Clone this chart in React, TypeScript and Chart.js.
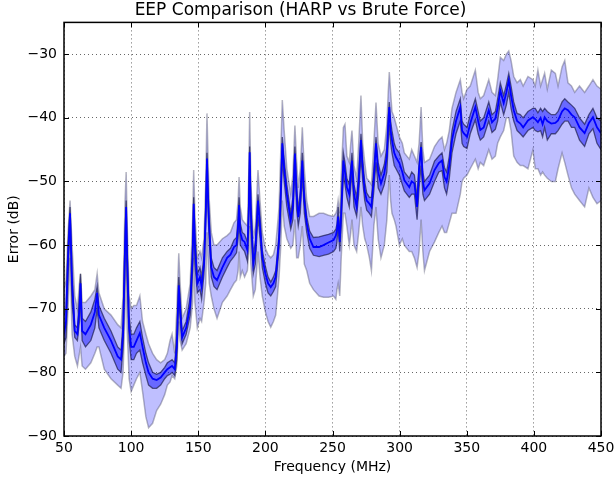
import React, { useEffect, useRef } from "react";
import { Chart, registerables } from "chart.js";

Chart.register(...registerables);

const TITLE = "EEP Comparison (HARP vs Brute Force)";
const X_LABEL = "Frequency (MHz)";
const Y_LABEL = "Error (dB)";
const X_TICKS = [50, 100, 150, 200, 250, 300, 350, 400, 450];
const Y_TICKS = [-90, -80, -70, -60, -50, -40, -30];

const FREQ = [
  50, 51.5, 53, 54.5, 56, 58, 60, 61.5, 62.3, 63.5, 66, 70, 73, 74.7, 76, 80, 85, 90, 92.5, 94,
  95.5, 96.3, 97, 98.5, 100, 102, 104, 106.5, 108.5, 111, 113, 116, 119, 122, 125, 127, 129, 130.5, 132.5, 134,
  135.5, 136.5, 138, 141, 144, 145.8, 146.6, 147.5, 149.3, 151.3, 152.5, 154.3, 155.6, 156.5, 157.5, 158.2, 159.7, 161.7, 164, 168,
  171.5, 174, 176.6, 178.5, 179.7, 180.4, 181.3, 182.8, 184.5, 186.6, 187.6, 188.3, 189.2, 191, 192.5, 194.5, 196, 197.7, 200, 202,
  204, 206, 207.7, 209, 210.2, 211.5, 212.6, 214, 216, 218.9, 220.5, 222, 223.3, 224.5, 226, 227.5, 229, 230.8, 233, 235.8,
  240, 243.3, 247, 250.8, 252.5, 253.3, 254.2, 255.4, 256.5, 258.1, 259.3, 260.7, 262.5, 263.6, 264.5, 266, 268, 269.5, 271.2, 272.5,
  274, 275.5, 277.5, 279, 280.8, 282.4, 284, 286.1, 288.6, 290.5, 291.5, 292.3, 293.3, 294.3, 296, 297.3, 299.8, 302, 303.5, 307.2,
  309, 311, 313, 314.5, 316, 317.3, 318.5, 322.3, 326, 329.2, 331.6, 333.4, 335, 337, 339, 342, 345.2, 346.5, 347.7, 350.2,
  352.6, 356.4, 358.5, 360.1, 362.6, 366.4, 368.8, 371.3, 373, 375, 377.5, 379.5, 381.3, 383, 385, 387.5, 389.9, 392, 395.6, 399.3,
  401, 403, 405, 406.5, 408, 410, 413, 416, 418, 421, 423, 425.4, 428, 430.4, 434, 437.8, 441, 444, 447, 450,
];

const MEAN = [
  -74, -72, -62, -55, -66, -73.5, -74, -70, -66, -73.5, -74, -72.5, -70.5, -67.5, -71, -73, -75, -77.5, -78, -74,
  -60, -54, -62, -73, -76, -76, -75, -73.8, -76, -78.5, -80, -81, -81.2, -80.8, -80, -79.5, -79.2, -79, -79.5, -76,
  -66.3, -70, -74.5, -73, -69.5, -62, -53.5, -60, -66, -65, -66.5, -63, -55, -46.4, -54, -57.2, -63.5, -65, -65.5, -63.5,
  -62, -61.5, -60.3, -60, -57, -53.7, -58, -59.2, -59.5, -60.8, -55, -45.4, -55, -62.9, -61, -53, -57, -61.9, -64.5, -66,
  -66.6, -66, -65, -62, -59.2, -52, -44, -48, -52, -56.1, -54, -45.6, -52, -55.6, -53, -46.7, -53, -56.6, -59, -60.3,
  -60.3, -60, -59.6, -59.2, -58.5, -57.7, -55.5, -59.5, -55, -46.7, -48.5, -50.9, -52, -49, -46.7, -52, -54, -50, -43.5, -48,
  -51.5, -53, -53.5, -54, -49.5, -44, -48.5, -50.3, -48.7, -46, -41, -38.3, -42, -43.5, -45.5, -46.2, -47.1, -48.5, -49.8, -50.9,
  -50, -50.3, -54, -48, -44.6, -50, -51.4, -50.3, -48.2, -47.1, -46.7, -49.3, -50, -47.5, -43.5, -40.5, -38.3, -42, -42.4, -43,
  -40.9, -38.3, -40.5, -41.9, -41.5, -38.8, -40.7, -40.1, -38.5, -35.7, -37.7, -36, -34.1, -36.5, -38.8, -40.5, -40.9, -41.5, -40.4, -39.9,
  -40.2, -40.7, -40, -41, -39.9, -40.5, -40.9, -40.8, -40.4, -39, -38.5, -38.8, -39.5, -39.9, -41.5, -42.4, -40.8, -39.9, -41.5, -42.4,
];

const INNER_HI = [
  -71, -70, -60, -54, -64, -72.5, -73, -68, -64.5, -71.5, -72, -70.5, -68.5, -66.5, -69.5, -71.5, -73.5, -76, -76.5, -72,
  -58, -53, -60, -71, -74, -74, -73, -72, -74.5, -77, -78.5, -80, -80.3, -80, -79.2, -78.5, -78.2, -78, -78.5, -74,
  -65, -68.5, -73.5, -72, -68, -60, -52.5, -58, -64.5, -63.5, -65, -61.5, -54, -45.5, -52.5, -56, -62, -63.5, -64, -62,
  -61, -60.5, -59.2, -58.8, -55.5, -52.5, -56.5, -58, -58.3, -59.5, -53.5, -44.5, -53.5, -61.5, -59.5, -52, -55.5, -60.8, -63.3, -65,
  -65.8, -65, -64, -61, -58, -50.5, -43, -46.5, -50.5, -55, -52.5, -44.5, -50.5, -54.5, -51.5, -45.5, -51.5, -55.5, -57.8, -58.8,
  -58.7, -58.5, -58.3, -58, -57.5, -56.7, -54, -58, -53.5, -45.5, -47, -49.5, -50.5, -47.5, -45.5, -50.5, -52.5, -48.5, -42.5, -46.5,
  -50, -51.8, -52.5, -52.5, -48, -43, -47, -49, -47.3, -44.5, -40, -37.5, -40.5, -42, -44, -44.8, -45.5, -47, -48.5, -49.5,
  -48.5, -49, -52.5, -47, -43.8, -48.5, -50, -49, -46.8, -46, -45.5, -47.8, -48.5, -46, -42, -39, -37, -40.5, -41, -41.5,
  -39.5, -37, -39, -40.5, -40, -37.5, -39.5, -39, -37, -34.5, -36.5, -34.8, -33, -35, -37.5, -39.3, -39.5, -40, -39, -38.5,
  -38.5, -39.2, -38.5, -39, -38.5, -39, -39.5, -39.5, -39, -37.5, -37, -37.5, -38, -38.5, -40, -41, -39.5, -38.5, -40, -40.5,
];

const INNER_LO = [
  -75.5, -74.5, -65, -57, -69, -74.5, -75, -72, -68, -75, -76, -75, -73, -70, -73, -75, -77, -79.5, -80, -76,
  -63, -56, -65, -75, -78, -78, -77, -76.5, -78.5, -80.5, -82, -82.5, -82.5, -82, -81, -80.5, -80.3, -80, -80.5, -78,
  -68, -72, -75.5, -74, -71, -64, -55.5, -63, -67.5, -67, -68.5, -64.5, -57, -48.5, -56, -59.5, -65, -66.5, -67, -65,
  -63.5, -62.5, -61.8, -61.2, -59, -55.5, -60, -60.5, -61, -62.5, -57, -47.5, -57.5, -64.5, -63, -55.5, -59, -63.5, -66, -67.5,
  -68, -67.3, -66.5, -63.5, -60.5, -54, -46.5, -50, -54, -57.5, -56, -48, -54.5, -57, -55, -49, -55, -58, -60.5, -61.6,
  -61.8, -61.6, -61.4, -61, -60.5, -59.5, -57, -61, -57, -49, -50.5, -52.5, -54, -51, -48.5, -54, -55.5, -52, -46, -50,
  -53, -54.5, -55, -55.5, -51.5, -47, -51, -52, -50.5, -48.5, -44, -41, -44, -45.5, -47.5, -48, -49, -50.5, -51.5, -52.5,
  -52, -52, -56, -51, -47.5, -52, -53, -52, -50, -48.5, -48.3, -51, -52, -49.5, -45.5, -42.5, -40.5, -44, -44.5, -44.8,
  -42.5, -40.3, -42.5, -43.5, -43, -40.5, -42.3, -41.8, -40.5, -37.5, -39.5, -38, -36, -38.5, -40.5, -42, -42.5, -43, -42, -41.5,
  -42, -42.2, -42, -43, -41.5, -43.5, -42.5, -42.5, -42, -41, -40.5, -40.5, -41.5, -41.5, -43.5, -44.5, -42.5, -41.7, -44, -45,
];

const OUTER_HI = [
  -67, -65.5, -58, -53, -60, -68, -70, -66, -64.5, -69, -69, -68, -67, -64.5, -67.5, -70, -71, -72.5, -73, -68,
  -53, -48.5, -56, -68, -70, -69.5, -69.5, -68, -72, -74, -75.5, -77, -78, -78.5, -78, -77, -75, -74, -77, -70,
  -61.3, -66, -71.5, -70, -66, -56, -48.2, -55, -62, -61, -62, -59, -50, -39.3, -48, -53, -58, -60, -60, -59,
  -58.5, -58, -56.5, -56, -53, -49.3, -54, -56, -56.5, -57, -49, -39.1, -50, -59, -57, -48.2, -53, -58, -60.5, -61.5,
  -62, -61.5, -60, -57, -54, -45, -37.2, -42, -48, -52, -49, -41.2, -47, -51, -48, -41.5, -48, -53, -55.5, -55.5,
  -55, -55, -55.3, -55.5, -55, -54.5, -53, -55, -49, -41.5, -41, -46, -47, -44, -42, -47.5, -49.5, -44, -36.5, -44,
  -47, -49.5, -50, -50.5, -44, -37.6, -44, -46, -45, -41, -36, -32.8, -36, -39, -40, -41, -43, -44, -45.5, -46.5,
  -45, -46, -47, -44, -38.3, -45, -47, -46.5, -44.5, -43.5, -43, -45, -44, -42, -38.5, -36, -34, -36, -37, -35.5,
  -35, -32.5, -36, -37, -36.5, -34, -36, -36.5, -34, -30.5, -31, -30, -29.5, -31, -33.5, -34.5, -34, -35, -33.5, -34,
  -35, -32.5, -35, -34, -33, -35.5, -32.5, -33, -35, -32, -31, -34.5, -35, -36, -35, -36, -35, -34, -35, -35.5,
];

const OUTER_LO = [
  -77.5, -77, -70, -62, -74, -77.5, -79, -77, -76, -79, -79.5, -78.5, -77, -76, -76, -79.5, -81, -82, -82.5, -80,
  -70, -62, -73, -81, -83, -82, -81, -80, -83, -87, -88.7, -88, -86, -85, -83.5, -82, -81.5, -80.5, -81, -79,
  -72, -75, -76.5, -75.5, -73, -69, -62, -69, -73, -71.5, -72, -69, -66, -58, -63, -66, -68, -70, -71.5, -69,
  -68, -67, -66, -65.5, -64, -61, -65, -64, -65, -64, -61, -57, -63, -68, -67, -61, -65, -68, -70.5, -72,
  -72.9, -72, -71, -68, -65, -60, -53, -57, -59, -60.5, -60, -56, -62, -62, -60, -57, -63, -64, -66, -67,
  -68, -68.2, -68.2, -68, -68.5, -67, -66, -68, -62, -55, -55, -57, -60, -58, -56, -60, -61, -58, -54, -57,
  -59, -60, -62, -64, -57, -54, -59, -62, -60, -56, -52, -49, -53, -55, -56, -57, -60, -59, -60, -61,
  -61, -62, -63.5, -61, -56, -61, -64, -61, -59.5, -58, -57, -58, -58, -56.5, -55, -55, -52, -50, -49.5, -49,
  -48, -46.5, -48, -47, -47.5, -45, -46.5, -46, -44, -43, -42, -40, -40, -42, -46, -47, -47.5, -47.5, -48, -45,
  -48, -48, -49, -48.5, -49, -49.5, -50, -50, -48, -45.5, -47, -49, -51, -52, -53, -54, -51, -52.5, -53.5, -53,
];

const FONT = "'DejaVu Sans', sans-serif";

const toPts = (arr: number[]) => FREQ.map((f, i) => ({ x: f, y: arr[i] }));

const framePlugin = {
  id: "frameTicks",
  afterDraw(chart: any) {
    const { ctx, chartArea, scales } = chart;
    const { left, right, top, bottom } = chartArea;
    const xs = scales.x;
    const ys = scales.y;
    ctx.save();
    ctx.strokeStyle = "#000";
    ctx.lineWidth = 1;
    ctx.beginPath();
    X_TICKS.forEach((v) => {
      const px = Math.round(xs.getPixelForValue(v)) + 0.5;
      ctx.moveTo(px, bottom);
      ctx.lineTo(px, bottom - 5);
      ctx.moveTo(px, top);
      ctx.lineTo(px, top + 5);
    });
    Y_TICKS.forEach((v) => {
      const py = Math.round(ys.getPixelForValue(v)) + 0.5;
      ctx.moveTo(left, py);
      ctx.lineTo(left + 5, py);
      ctx.moveTo(right, py);
      ctx.lineTo(right - 5, py);
    });
    ctx.stroke();
    ctx.lineWidth = 1.5;
    ctx.strokeRect(left, top, right - left, bottom - top);
    ctx.restore();
  },
};

export default function App() {
  const ref = useRef<HTMLCanvasElement | null>(null);

  useEffect(() => {
    if (!ref.current) return;
    const outerEdge = "rgba(70,70,100,0.4)";
    const innerEdge = "rgba(10,10,50,0.6)";
    const chart = new Chart(ref.current, {
      type: "line",
      data: {
        datasets: [
          {
            data: toPts(OUTER_LO),
            borderColor: outerEdge,
            borderWidth: 1.5,
            pointRadius: 0,
            fill: false,
            order: 3,
          },
          {
            data: toPts(OUTER_HI),
            borderColor: outerEdge,
            borderWidth: 1.5,
            pointRadius: 0,
            backgroundColor: "rgba(0,0,255,0.25)",
            fill: 0,
            order: 3,
          },
          {
            data: toPts(INNER_LO),
            borderColor: innerEdge,
            borderWidth: 1.3,
            pointRadius: 0,
            fill: false,
            order: 2,
          },
          {
            data: toPts(INNER_HI),
            borderColor: innerEdge,
            borderWidth: 1.3,
            pointRadius: 0,
            backgroundColor: "rgba(0,0,255,0.45)",
            fill: 2,
            order: 2,
          },
          {
            data: toPts(MEAN),
            borderColor: "rgba(0,0,255,1)",
            borderWidth: 1.8,
            pointRadius: 0,
            fill: false,
            order: 1,
          },
        ],
      },
      options: {
        responsive: false,
        animation: false,
        events: [],
        layout: { padding: { top: 0, right: 14, bottom: 0, left: 0 } },
        plugins: {
          legend: { display: false },
          tooltip: { enabled: false },
          title: {
            display: true,
            text: TITLE,
            color: "#000",
            font: { family: FONT, size: 17, weight: "normal" },
            padding: { top: 0, bottom: 2 },
          },
        },
        elements: { line: { tension: 0 } },
        scales: {
          x: {
            type: "linear",
            min: 50,
            max: 450,
            afterBuildTicks: (s: any) => {
              s.ticks = X_TICKS.map((v) => ({ value: v }));
            },
            afterFit: (s: any) => {
              s.height = 44;
              s.paddingLeft = 0;
              s.paddingRight = 0;
            },
            grid: {
              color: "rgba(0,0,0,0.75)",
              lineWidth: 0.8,
              drawTicks: false,
            },
            border: { display: false, dash: [1, 3] },
            ticks: {
              color: "#000",
              font: { family: FONT, size: 14 },
              padding: 4,
              maxRotation: 0,
              callback: (v: any) => String(v),
            },
            title: {
              display: true,
              text: X_LABEL,
              color: "#000",
              font: { family: FONT, size: 14 },
              padding: { top: 0, bottom: 4 },
            },
          },
          y: {
            type: "linear",
            min: -90,
            max: -25,
            afterBuildTicks: (s: any) => {
              s.ticks = Y_TICKS.map((v) => ({ value: v }));
            },
            afterFit: (s: any) => {
              s.width = 64;
              s.paddingTop = 0;
              s.paddingBottom = 0;
            },
            grid: {
              color: "rgba(0,0,0,0.75)",
              lineWidth: 0.8,
              drawTicks: false,
            },
            border: { display: false, dash: [1, 3] },
            ticks: {
              color: "#000",
              font: { family: FONT, size: 14 },
              padding: 7,
              callback: (v: any) => (v < 0 ? "\u2212" + Math.abs(v) : String(v)),
            },
            title: {
              display: true,
              text: Y_LABEL,
              color: "#000",
              font: { family: FONT, size: 14 },
              padding: { top: 6, bottom: 0 },
            },
          },
        },
      },
      plugins: [framePlugin],
    });
    return () => chart.destroy();
  }, []);

  return (
    <div style={{ position: "fixed", left: 0, top: 0, width: 615, height: 480, background: "#fff" }}>
      <canvas ref={ref} width={615} height={480} />
    </div>
  );
}
